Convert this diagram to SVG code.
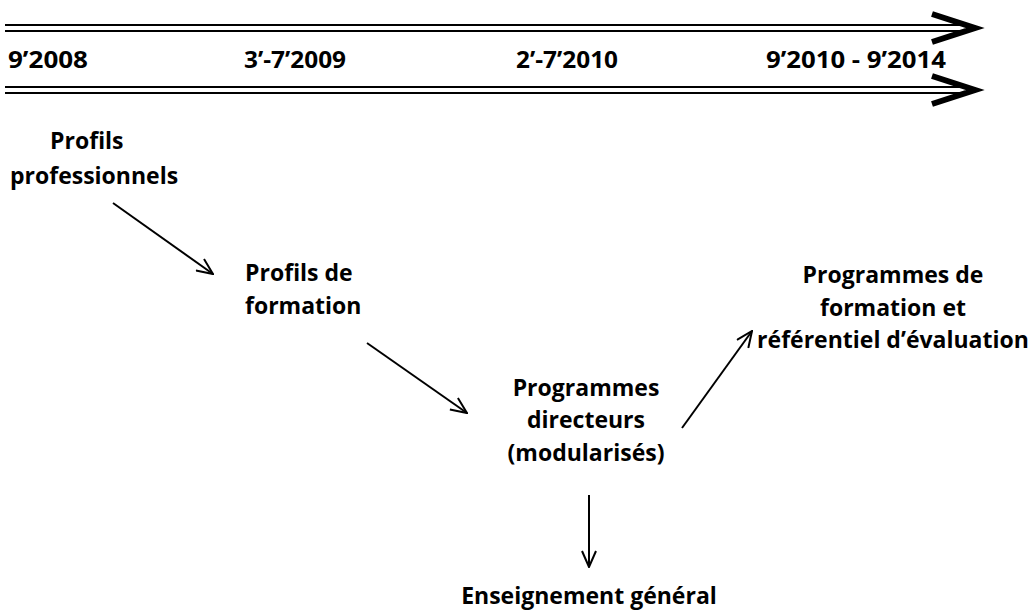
<svg xmlns="http://www.w3.org/2000/svg" width="1034" height="613" viewBox="0 0 1034 613">
<style>
  text { font-family: "Open Sans", "Liberation Sans", sans-serif; font-weight: 700; font-size: 23px; fill: #000; }
  .c { text-anchor: middle; }
  .d { font-size: 23px; }
  .tl { stroke: #000; stroke-width: 2.2; fill: none; }
  .chev { stroke: #000; stroke-width: 6; fill: none; stroke-linejoin: miter; stroke-miterlimit: 10; }
  .conn { stroke: #000; stroke-width: 2; fill: none; }
</style>
<defs>
  <marker id="open" viewBox="0 0 18 16" refX="17" refY="8" markerUnits="userSpaceOnUse" markerWidth="18" markerHeight="16" orient="auto">
    <path d="M1,1 L17,8 L1,15" stroke="#000" stroke-width="2" fill="none"/>
  </marker>
</defs>
<rect width="1034" height="613" fill="#fff"/>
<g id="timeline">
  <line class="tl" x1="5" y1="25" x2="968" y2="25"/>
  <line class="tl" x1="5" y1="31" x2="968" y2="31"/>
  <polyline class="chev" points="932,14 975,28 932,42"/>
  <line class="tl" x1="5" y1="87" x2="968" y2="87"/>
  <line class="tl" x1="5" y1="93" x2="968" y2="93"/>
  <polyline class="chev" points="932,76 975,90 932,104"/>
  <text class="d" x="8" y="68" textLength="80" lengthAdjust="spacingAndGlyphs">9’2008</text>
  <text class="d" x="244" y="68" textLength="102" lengthAdjust="spacingAndGlyphs">3’-7’2009</text>
  <text class="d" x="516" y="68" textLength="102" lengthAdjust="spacingAndGlyphs">2’-7’2010</text>
  <text class="d" x="766" y="68" textLength="180" lengthAdjust="spacingAndGlyphs">9’2010 - 9’2014</text>
</g>
<g id="connectors">
  <line class="conn" x1="113" y1="203" x2="213" y2="274" marker-end="url(#open)"/>
  <line class="conn" x1="367" y1="343" x2="467" y2="413" marker-end="url(#open)"/>
  <line class="conn" x1="682" y1="428" x2="752" y2="331" marker-end="url(#open)"/>
  <line class="conn" x1="589" y1="495" x2="589" y2="567" marker-end="url(#open)"/>
</g>
<g id="n-profils-pro">
  <text x="50" y="149">Profils</text>
  <text x="10" y="184">professionnels</text>
</g>
<g id="n-profils-formation">
  <text x="245" y="281">Profils de</text>
  <text x="245" y="314">formation</text>
</g>
<g id="n-programmes-directeurs">
  <text class="c" x="586" y="396">Programmes</text>
  <text class="c" x="586" y="428">directeurs</text>
  <text class="c" x="586" y="461">(modularisés)</text>
</g>
<g id="n-programmes-formation">
  <text class="c" x="893" y="283">Programmes de</text>
  <text class="c" x="893" y="316">formation et</text>
  <text class="c" x="893" y="348">référentiel d’évaluation</text>
</g>
<g id="n-enseignement">
  <text class="c" x="589" y="604">Enseignement général</text>
</g>
</svg>
